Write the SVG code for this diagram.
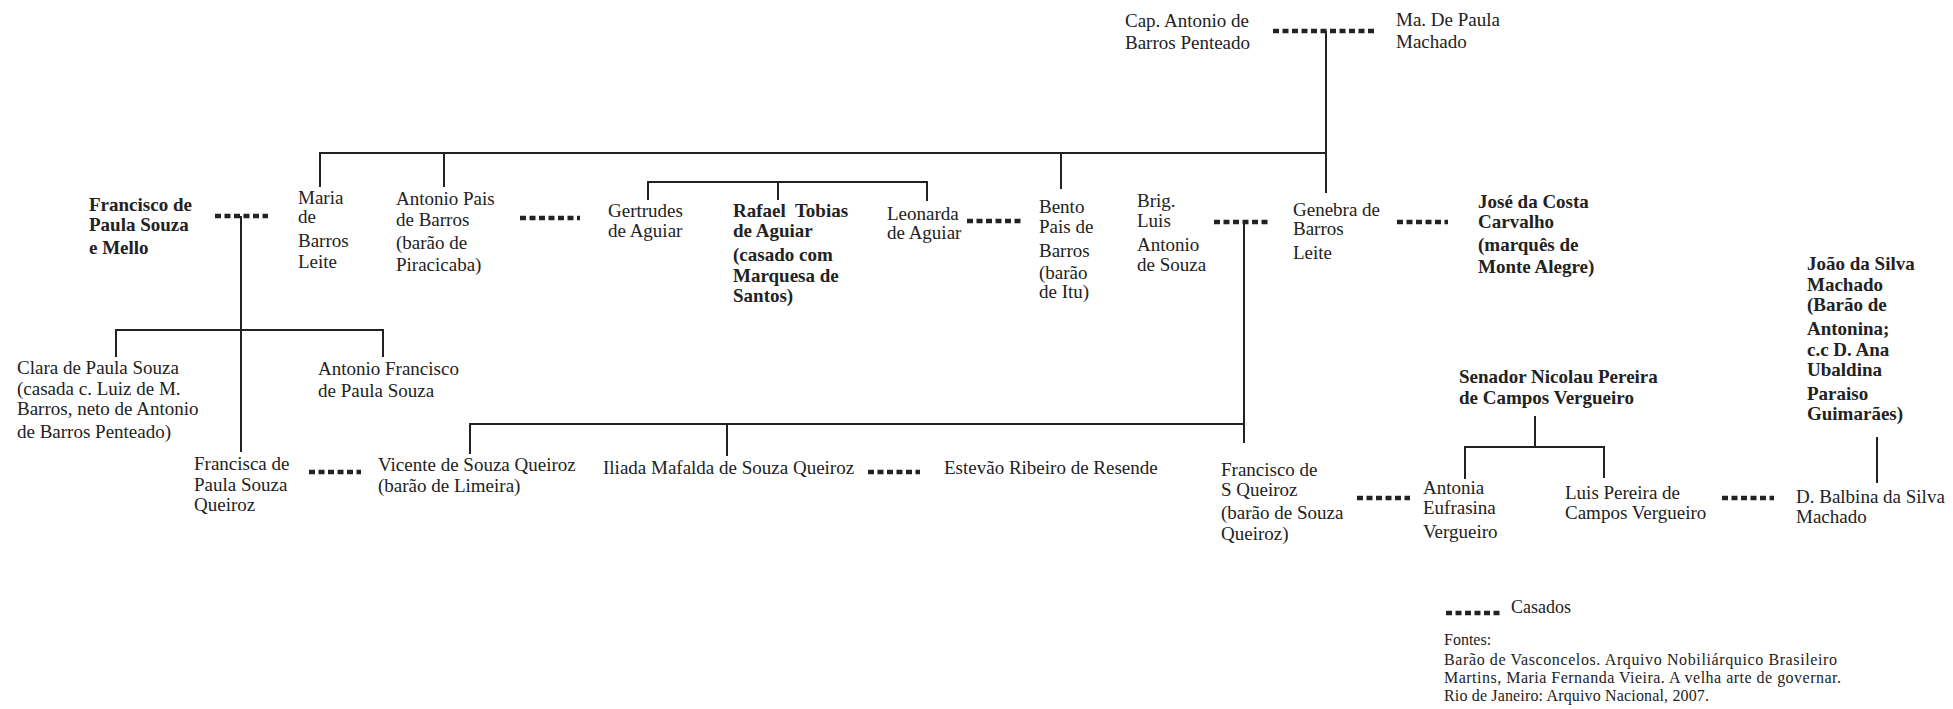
<svg xmlns="http://www.w3.org/2000/svg" width="1953" height="709" viewBox="0 0 1953 709">
<style>
.t{font-family:"Liberation Serif","Times New Roman",serif;font-size:19px;fill:#222}
.b{font-weight:bold}
.s{font-size:16px}
.ln{stroke:#222;stroke-width:2;fill:none}
.m{stroke:#222;stroke-width:4.5;stroke-dasharray:6 3.5;fill:none}
</style>
<rect width="1953" height="709" fill="#fff"/>
<g id="connectors">
<path class="m" d="M1273,31H1375"/>
<path class="ln" d="M1326,31V193M320,187V153H1326M444,153V187M1061,153V189"/>
<path class="ln" d="M648,200V182H927V201M778,182V200"/>
<path class="m" d="M215,216H268"/>
<path class="ln" d="M241,216V452M116,357V330H383V357"/>
<path class="m" d="M520,218H580"/>
<path class="m" d="M967,221H1021"/>
<path class="m" d="M1214,222H1268"/>
<path class="ln" d="M1244,222V443M470,454V424H1244M727,424V456"/>
<path class="m" d="M1397,222H1448"/>
<path class="m" d="M309,472H361"/>
<path class="m" d="M868,472H920"/>
<path class="m" d="M1357,498H1410"/>
<path class="ln" d="M1535,416V447M1465,479V447H1604V478"/>
<path class="m" d="M1722,498H1774"/>
<path class="ln" d="M1877,437V483"/>
</g>
<g id="cap-antonio"><text class="t"><tspan x="1125" y="27">Cap. Antonio de</tspan><tspan x="1125" y="49">Barros Penteado</tspan></text></g>
<g id="ma-de-paula"><text class="t"><tspan x="1396" y="26">Ma. De Paula</tspan><tspan x="1396" y="48">Machado</tspan></text></g>
<g id="francisco-mello"><text class="t b"><tspan x="89" y="211">Francisco de</tspan><tspan x="89" y="231">Paula Souza</tspan><tspan x="89" y="254">e Mello</tspan></text></g>
<g id="maria"><text class="t"><tspan x="298" y="204">Maria</tspan><tspan x="298" y="223">de</tspan><tspan x="298" y="247">Barros</tspan><tspan x="298" y="268">Leite</tspan></text></g>
<g id="antonio-pais"><text class="t"><tspan x="396" y="205">Antonio Pais</tspan><tspan x="396" y="226">de Barros</tspan><tspan x="396" y="249">(barão de</tspan><tspan x="396" y="271">Piracicaba)</tspan></text></g>
<g id="gertrudes"><text class="t"><tspan x="608" y="217">Gertrudes</tspan><tspan x="608" y="237">de Aguiar</tspan></text></g>
<g id="rafael"><text class="t b"><tspan x="733" y="217">Rafael&#160; Tobias</tspan><tspan x="733" y="237">de Aguiar</tspan><tspan x="733" y="261">(casado com</tspan><tspan x="733" y="282">Marquesa de</tspan><tspan x="733" y="302">Santos)</tspan></text></g>
<g id="leonarda"><text class="t"><tspan x="887" y="220">Leonarda</tspan><tspan x="887" y="239">de Aguiar</tspan></text></g>
<g id="bento"><text class="t"><tspan x="1039" y="213">Bento</tspan><tspan x="1039" y="233">Pais de</tspan><tspan x="1039" y="257">Barros</tspan><tspan x="1039" y="279">(barão</tspan><tspan x="1039" y="298">de Itu)</tspan></text></g>
<g id="brig-luis"><text class="t"><tspan x="1137" y="207">Brig.</tspan><tspan x="1137" y="227">Luis</tspan><tspan x="1137" y="251">Antonio</tspan><tspan x="1137" y="271">de Souza</tspan></text></g>
<g id="genebra"><text class="t"><tspan x="1293" y="216">Genebra de</tspan><tspan x="1293" y="235">Barros</tspan><tspan x="1293" y="259">Leite</tspan></text></g>
<g id="jose-costa"><text class="t b"><tspan x="1478" y="208">José da Costa</tspan><tspan x="1478" y="228">Carvalho</tspan><tspan x="1478" y="251">(marquês de</tspan><tspan x="1478" y="273">Monte Alegre)</tspan></text></g>
<g id="joao-silva"><text class="t b"><tspan x="1807" y="270">João da Silva</tspan><tspan x="1807" y="291">Machado</tspan><tspan x="1807" y="311">(Barão de</tspan><tspan x="1807" y="335">Antonina;</tspan><tspan x="1807" y="356">c.c D. Ana</tspan><tspan x="1807" y="376">Ubaldina</tspan><tspan x="1807" y="400">Paraiso</tspan><tspan x="1807" y="420">Guimarães)</tspan></text></g>
<g id="clara"><text class="t"><tspan x="17" y="374">Clara de Paula Souza</tspan><tspan x="17" y="395">(casada c. Luiz de M.</tspan><tspan x="17" y="415">Barros, neto de Antonio</tspan><tspan x="17" y="438">de Barros Penteado)</tspan></text></g>
<g id="antonio-francisco"><text class="t"><tspan x="318" y="375">Antonio Francisco</tspan><tspan x="318" y="397">de Paula Souza</tspan></text></g>
<g id="francisca"><text class="t"><tspan x="194" y="470">Francisca de</tspan><tspan x="194" y="491">Paula Souza</tspan><tspan x="194" y="511">Queiroz</tspan></text></g>
<g id="vicente"><text class="t"><tspan x="378" y="471">Vicente de Souza Queiroz</tspan><tspan x="378" y="492">(barão de Limeira)</tspan></text></g>
<g id="iliada"><text class="t" x="603" y="474">Iliada Mafalda de Souza Queiroz</text></g>
<g id="estevao"><text class="t" x="944" y="474">Estevão Ribeiro de Resende</text></g>
<g id="francisco-queiroz"><text class="t"><tspan x="1221" y="476">Francisco de</tspan><tspan x="1221" y="496">S Queiroz</tspan><tspan x="1221" y="519">(barão de Souza</tspan><tspan x="1221" y="540">Queiroz)</tspan></text></g>
<g id="senador"><text class="t b"><tspan x="1459" y="383">Senador Nicolau Pereira</tspan><tspan x="1459" y="404">de Campos Vergueiro</tspan></text></g>
<g id="antonia"><text class="t"><tspan x="1423" y="494">Antonia</tspan><tspan x="1423" y="514">Eufrasina</tspan><tspan x="1423" y="538">Vergueiro</tspan></text></g>
<g id="luis-pereira"><text class="t"><tspan x="1565" y="499">Luis Pereira de</tspan><tspan x="1565" y="519">Campos Vergueiro</tspan></text></g>
<g id="balbina"><text class="t"><tspan x="1796" y="503">D. Balbina da Silva</tspan><tspan x="1796" y="523">Machado</tspan></text></g>
<g id="legend">
<path class="m" d="M1446,613H1501"/>
<text class="t" style="font-size:18px" x="1511" y="613">Casados</text>
<text class="t s" x="1444" y="645">Fontes:</text>
<text class="t s" x="1444" y="665" textLength="393" lengthAdjust="spacing">Barão de Vasconcelos. Arquivo Nobiliárquico Brasileiro</text>
<text class="t s" x="1444" y="683" textLength="397" lengthAdjust="spacing">Martins, Maria Fernanda Vieira. A velha arte de governar.</text>
<text class="t s" x="1444" y="701" textLength="265" lengthAdjust="spacing">Rio de Janeiro: Arquivo Nacional, 2007.</text>
</g>
</svg>
